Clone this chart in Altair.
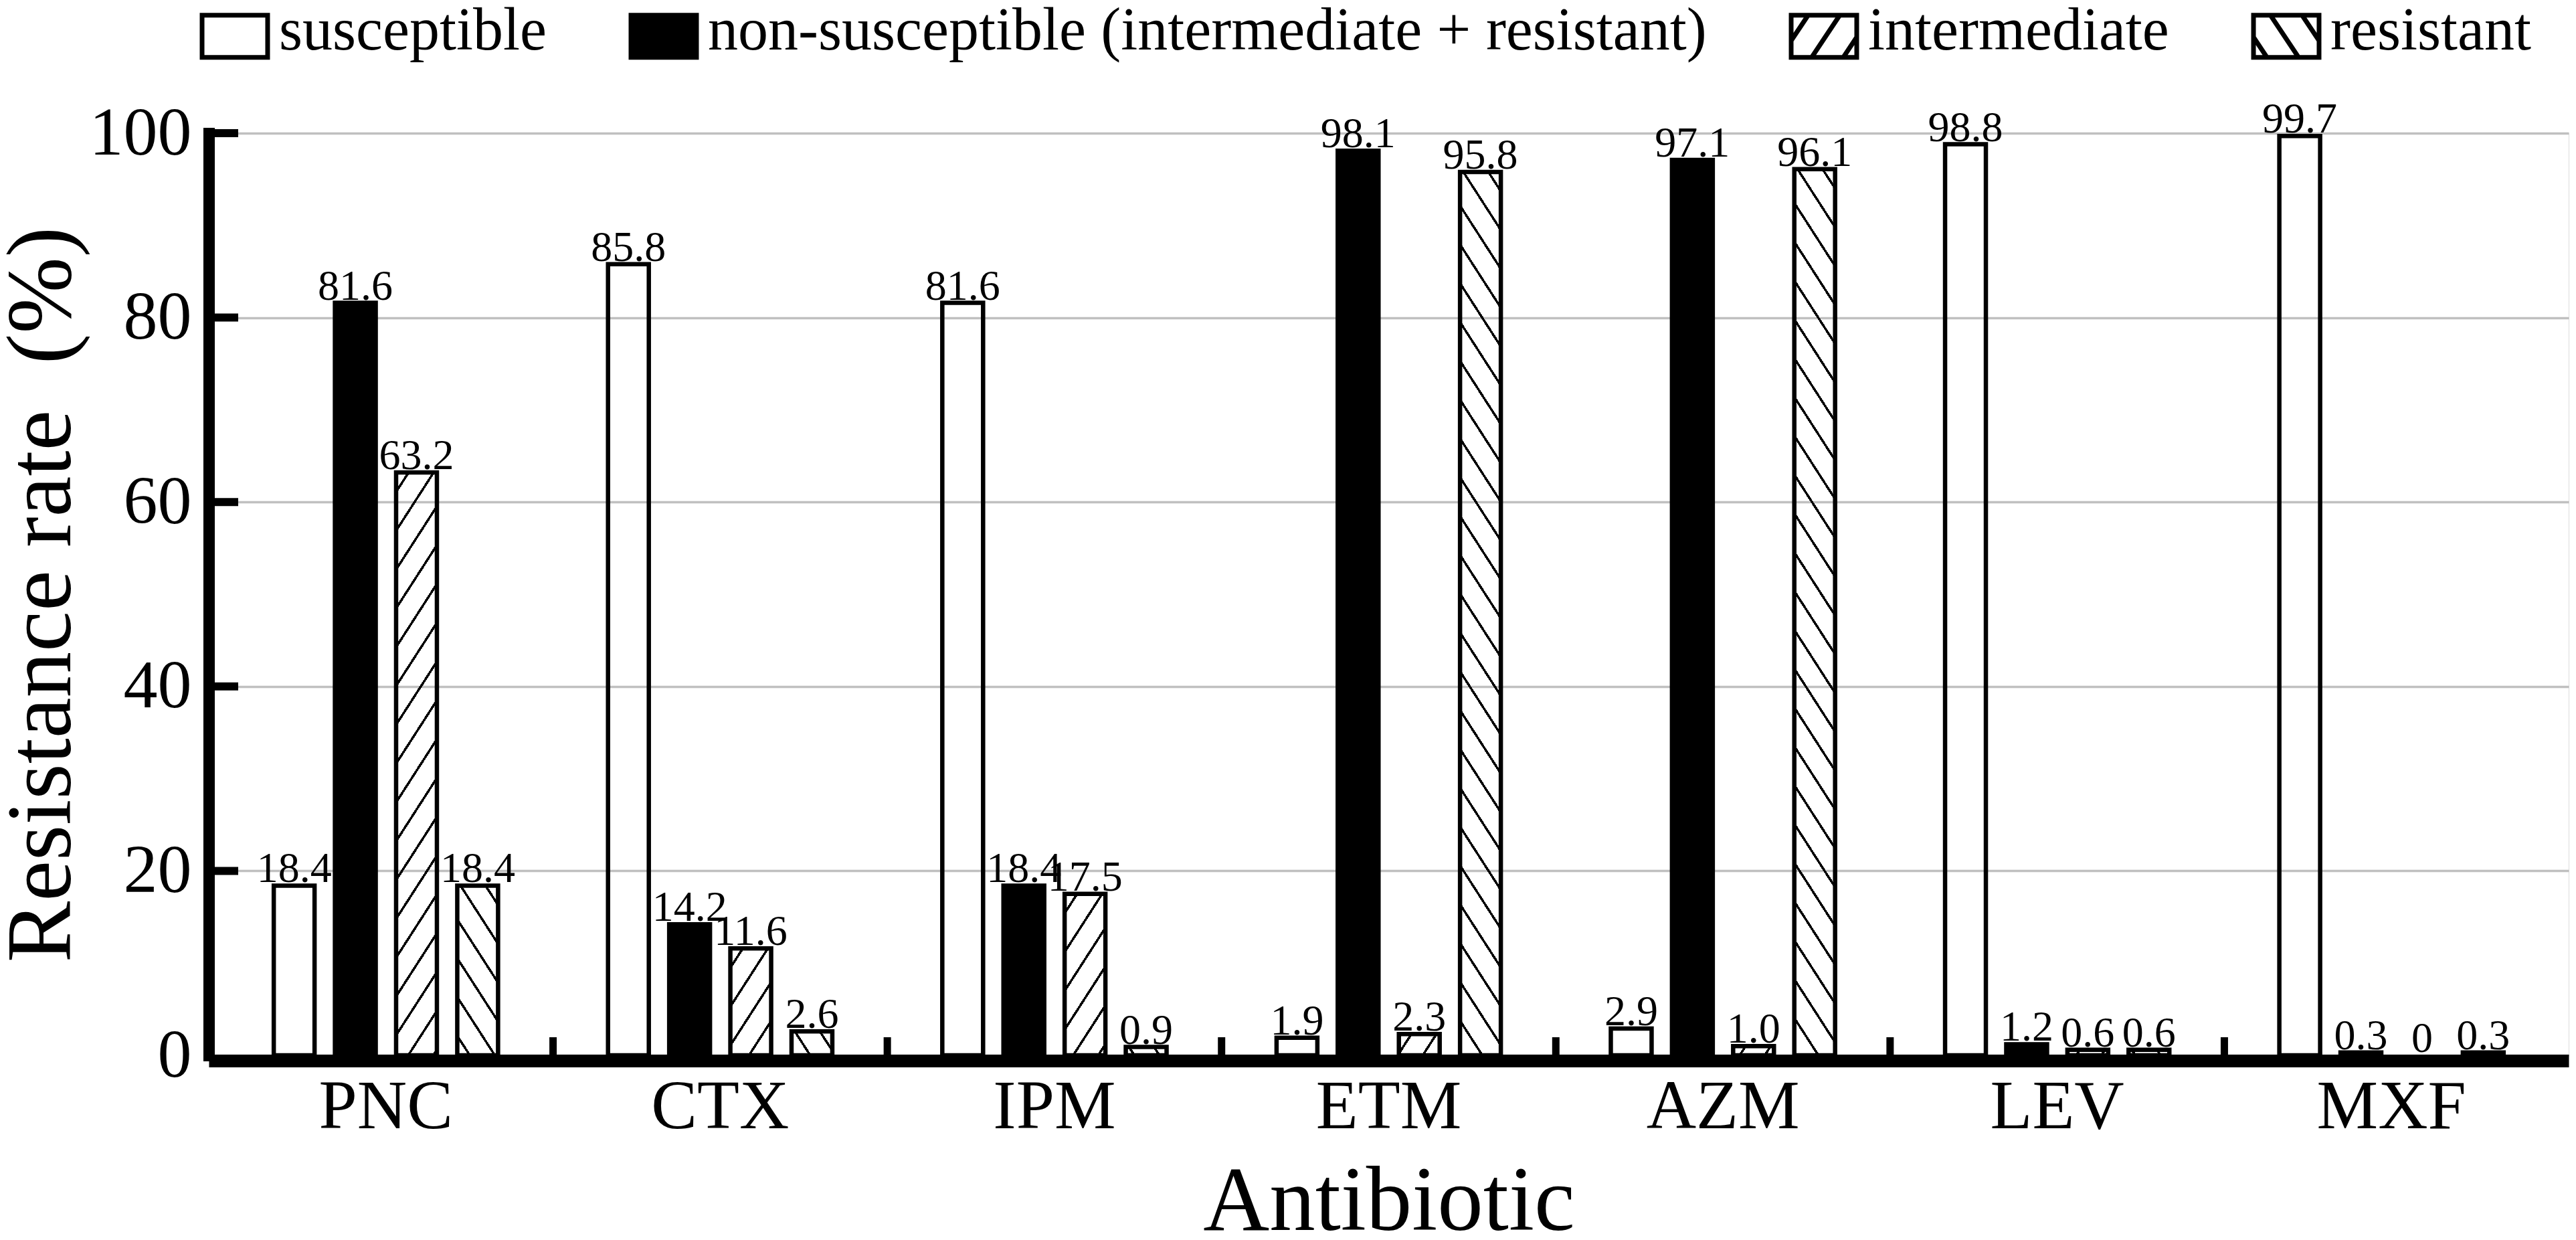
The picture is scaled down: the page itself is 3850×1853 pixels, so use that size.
import math
import altair as alt
import pandas as pd

# ---------------- data ----------------
antibiotics = ["PNC", "CTX", "IPM", "ETM", "AZM", "LEV", "MXF"]
series = ["susceptible", "non-susceptible (intermediate + resistant)", "intermediate", "resistant"]
susceptible = [18.4, 85.8, 81.6, 1.9, 2.9, 98.8, 99.7]
non_susceptible = [81.6, 14.2, 18.4, 98.1, 97.1, 1.2, 0.3]
intermediate = [63.2, 11.6, 17.5, 2.3, 1.0, 0.6, 0.0]
resistant = [18.4, 2.6, 0.9, 95.8, 96.1, 0.6, 0.3]
y_ticks = [0, 20, 40, 60, 80, 100]

# ---------------- layout / style ----------------
FONT = "Liberation Serif"
W, H = 3527, 1378
PAD = {"left": 304, "top": 191, "right": 3, "bottom": 268}
X_PAD_OUTER = 0.03
XO_PAD_INNER, XO_PAD_OUTER = 0.333, 0.899
STEP = W / (len(antibiotics) + 2 * X_PAD_OUTER)
BW = STEP / (len(series) - XO_PAD_INNER + 2 * XO_PAD_OUTER) * (1 - XO_PAD_INNER)
SLOPE, PERIOD, LINE = 1.55, 58.0, 3.5
CLEAR, INK = "rgba(255,255,255,0)", "black"
GRID = "#c0c0c0"
BAR_SW = 6.5

series_values = [susceptible, non_susceptible, intermediate, resistant]
rows = []
for s, vals in zip(series, series_values):
    for ab, v in zip(antibiotics, vals):
        rows.append({"antibiotic": ab, "series": s, "value": v,
                     "label": (f"{v:.1f}" if v != 0 else "0")})
df = pd.DataFrame(rows)

X_SCALE = alt.Scale(domain=antibiotics, paddingInner=0, paddingOuter=X_PAD_OUTER)
X_AXIS = alt.Axis(title="Antibiotic", titleFont=FONT, titleFontSize=137,
                  titleFontWeight="normal", titleColor="black",
                  titleY=252, titleBaseline="alphabetic",
                  labelFont=FONT, labelFontSize=103, labelColor="black",
                  labelAngle=0, labelPadding=19, labelLimit=2000, ticks=False, tickSize=0,
                  domainColor="black", domainWidth=19, offset=8, grid=False)
X = alt.X("antibiotic:N", scale=X_SCALE, axis=X_AXIS)
XO = alt.XOffset("series:N",
                 scale=alt.Scale(domain=series, paddingInner=XO_PAD_INNER,
                                 paddingOuter=XO_PAD_OUTER))
Y = alt.Y("value:Q",
          scale=alt.Scale(domain=[0, 100], nice=False, zero=True),
          axis=alt.Axis(values=y_ticks, title="Resistance rate\u00a0\u00a0(%)",
                        titleFont=FONT, titleFontSize=137, titleFontWeight="normal",
                        titleColor="black", titleX=-208, titleBaseline="alphabetic",
                        labelFont=FONT, labelFontSize=102, labelColor="black",
                        labelPadding=26, labelLimit=2000, ticks=False, tickSize=0,
                        domainColor="black", domainWidth=17, domainCap="square",
                        grid=True, gridColor=GRID, gridWidth=3.5))


def hatch_fill(v, kind):
    h = v / 100.0 * H
    L = h + SLOPE * BW
    a = SLOPE * BW / L
    b = h / L
    n2 = a * a + b * b
    if kind == "/":
        x1, y1, x2, y2 = 0, 0, a / n2, b / n2
    else:
        x1, y1, x2, y2 = 1, 0, 1 - a / n2, b / n2
    dt = LINE * math.sqrt(1 + SLOPE ** 2) / L
    step = PERIOD / L
    stops = [alt.GradientStop(color=CLEAR, offset=0)]
    t = step * 0.5
    while t - dt / 2 < 1:
        s0 = max(0.0, t - dt / 2)
        s1 = min(1.0, t + dt / 2)
        stops += [alt.GradientStop(color=CLEAR, offset=s0),
                  alt.GradientStop(color=INK, offset=s0),
                  alt.GradientStop(color=INK, offset=s1),
                  alt.GradientStop(color=CLEAR, offset=s1)]
        t += step
    stops.append(alt.GradientStop(color=CLEAR, offset=1))
    return alt.LinearGradient(gradient="linear", stops=stops, x1=x1, y1=y1, x2=x2, y2=y2)


# legend swatch paths (unit symbol space)
XR, YT, YB = 0.933, -0.467, 0.733


def swatch_path(kind):
    p = f"M{-XR},{YT}L{XR},{YT}L{XR},{YB}L{-XR},{YB}Z"
    if kind is None:
        return p
    for xb in (-1.25, -0.35, 0.55):
        ax, ay, bx, by = xb, YB, xb + 0.8, YT

        def at(x):
            return ay + (x - ax) * (by - ay) / (bx - ax)
        sx, sy, ex, ey = ax, ay, bx, by
        if sx < -XR:
            sx, sy = -XR, at(-XR)
        if ex > XR:
            ex, ey = XR, at(XR)
        if kind == "\\":
            sx, ex = -sx, -ex
        p += f"M{sx:.3f},{sy:.3f}L{ex:.3f},{ey:.3f}"
    return p


swatch_paths = [swatch_path(None), swatch_path(None), swatch_path("/"), swatch_path("\\")]
swatch_fills = ["white", "black", "white", "white"]
swatch_strokes = ["black", "black", "black", "black"]
SYM = 105 * 105

LEG = alt.Legend(orient="none", legendX=-17, legendY=-208, direction="horizontal",
                 columns=4, title=None, labelFont=FONT, labelFontSize=90,
                 labelColor="black", labelLimit=4000, labelOffset=10,
                 symbolSize=SYM, symbolStrokeWidth=7,
                 symbolOpacity=1, columnPadding=112, padding=0, gridAlign="each")

legend_layer = alt.Chart(pd.DataFrame({"series": series})).mark_point(
    opacity=0, size=SYM, filled=False, strokeWidth=7).encode(
    x=alt.value(0), y=alt.value(0),
    fill=alt.Fill("series:N", scale=alt.Scale(domain=series, range=swatch_fills), legend=LEG),
    stroke=alt.Stroke("series:N", scale=alt.Scale(domain=series, range=swatch_strokes), legend=LEG),
    shape=alt.Shape("series:N", scale=alt.Scale(domain=series, range=swatch_paths), legend=LEG),
)

base = alt.Chart(df)
sus_layer = base.transform_filter(alt.datum.series == series[0]).mark_bar(
    fill="white", fillOpacity=0, stroke="black", strokeWidth=BAR_SW).encode(x=X, xOffset=XO, y=Y)
non_layer = base.transform_filter(alt.datum.series == series[1]).mark_bar(
    fill="black", stroke="black", strokeWidth=BAR_SW).encode(x=X, xOffset=XO, y=Y)

hatch_layers = []
for i, ab in enumerate(antibiotics):
    for name, vals, kind in [(series[2], intermediate, "/"), (series[3], resistant, "\\")]:
        v = vals[i]
        if v <= 0:
            continue
        hatch_layers.append(
            base.transform_filter((alt.datum.antibiotic == ab) & (alt.datum.series == name))
            .mark_bar(fill=hatch_fill(v, kind), stroke="black", strokeWidth=BAR_SW)
            .encode(x=X, xOffset=XO, y=Y))

ytick_layer = alt.Chart(pd.DataFrame({"value": y_ticks[1:]})).mark_rule(
    color="black", strokeWidth=12).encode(y=Y, x=alt.value(0), x2=alt.value(44))

xtick_layer = alt.Chart(pd.DataFrame({"antibiotic": antibiotics[1:]})).mark_rule(
    color="black", strokeWidth=11).encode(
    x=alt.X("antibiotic:N", bandPosition=0, scale=X_SCALE, axis=X_AXIS),
    y=alt.value(H), y2=alt.value(H - 27))

text_layer = base.mark_text(font=FONT, fontSize=64, baseline="alphabetic", dy=-5,
                            color="black").encode(x=X, xOffset=XO, y=Y, text="label:N")

chart = alt.layer(legend_layer, sus_layer, non_layer, *hatch_layers,
                  ytick_layer, xtick_layer, text_layer).properties(
    width=W, height=H,
    autosize=alt.AutoSizeParams(type="none"),
    padding=PAD,
).configure_view(stroke=GRID, strokeWidth=3.5).configure(background="white")

chart.save("out.html", embed_options={"renderer": "svg", "actions": False})
